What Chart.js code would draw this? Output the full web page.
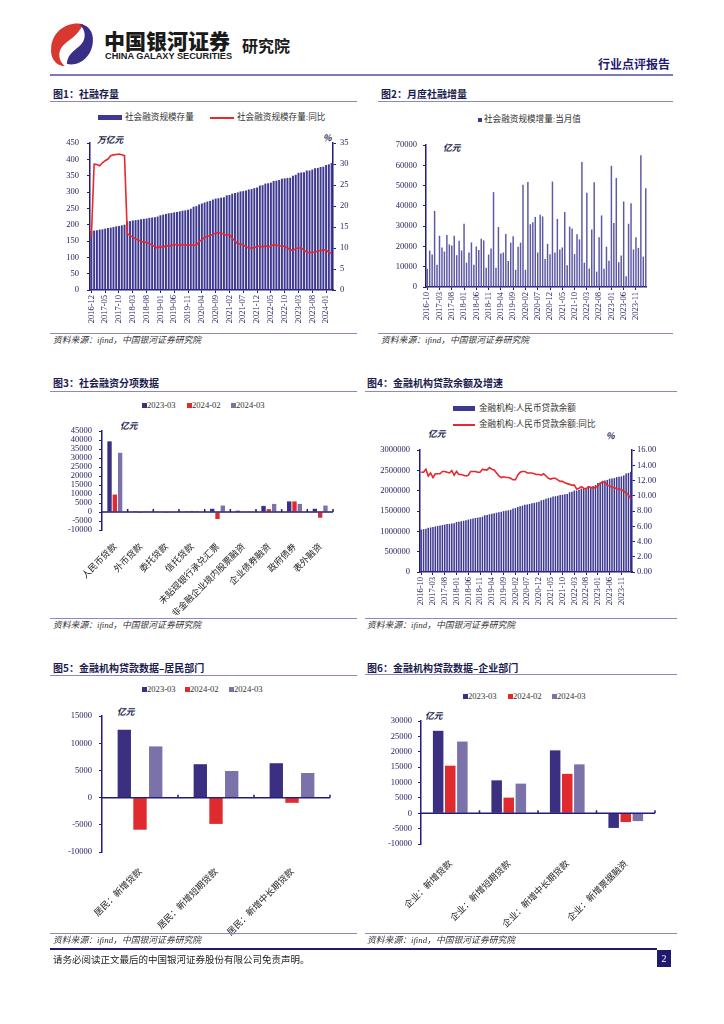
<!DOCTYPE html>
<html lang="zh">
<head>
<meta charset="UTF-8">
<title>社融与贷款数据</title>
<script src="https://cdn.jsdelivr.net/npm/chart.js"></script>
<style>
  body { margin: 0; background: #fff; }
  .page { position: relative; width: 724px; height: 1024px; overflow: hidden; font-family: "Noto Sans CJK SC", sans-serif; color: #222; }
  .abs { position: absolute; white-space: nowrap; line-height: 1; }
  canvas { position: absolute; }
  .title { font-size: 10px; font-weight: bold; color: #1b1b4d; }
  .rule { position: absolute; height: 1px; background: #8a88c6; }
  .src { font-family: "Liberation Serif", "Noto Sans CJK SC", serif; font-style: italic; font-size: 8.8px; color: #333; }
  .lg { font-family: "Liberation Serif", "Noto Sans CJK SC", serif; font-size: 8.6px; color: #333; }
  .sw { position: absolute; }
  .unit { font-size: 8.8px; font-weight: bold; font-style: italic; color: #1b1b4d; }
</style>
</head>
<body>
<div class="page">
  <!-- 页眉 -->
  <svg class="abs" style="left:48px;top:21px" width="48" height="46" viewBox="0 0 46 44">
    <path d="M34 3 C18 0 4 10 3 26 C2 36 8 43 16 43 C10 38 9 30 14 24 C19 18 27 16 34 3 Z" fill="#d8382e"/>
    <path d="M18 41 C30 44 42 34 43 20 C44 10 38 3 30 3 C36 8 37 16 32 22 C27 28 19 30 18 41 Z" fill="#3a2f86"/>
  </svg>
  <div class="abs" style="left:104px;top:30px;font-size:21px;font-weight:900;color:#1a1a1a">中国银河证券</div>
  <div class="abs" style="left:105px;top:52px;font-family:'Liberation Sans',sans-serif;font-size:9.2px;font-weight:bold;color:#1a1a1a">CHINA GALAXY SECURITIES</div>
  <div class="abs" style="left:242px;top:37px;font-size:16px;font-weight:bold;color:#1a1a1a">研究院</div>
  <div class="abs" style="left:598px;top:58px;font-size:12px;font-weight:bold;color:#1f1a6e">行业点评报告</div>
  <div class="rule" style="left:50px;top:74px;width:623px;height:2px;background:#7b78c0"></div>

  <!-- 图1 -->
  <div class="abs title" style="left:53px;top:89px">图1：社融存量</div>
  <div class="rule" style="left:50px;top:101px;width:307px"></div>
  <div class="sw" style="left:98px;top:115px;width:24px;height:5px;background:#3d3891"></div>
  <div class="abs lg" style="left:125px;top:113px">社会融资规模存量</div>
  <div class="sw" style="left:210px;top:117px;width:24px;height:2px;background:#e8282c"></div>
  <div class="abs lg" style="left:237px;top:113px">社会融资规模存量:同比</div>
  <div class="abs unit" style="left:97px;top:136px">万亿元</div>
  <div class="abs unit" style="left:323px;top:134px">%</div>
  <canvas id="c1" width="305" height="200" style="left:50px;top:130px"></canvas>
  <div class="rule" style="left:50px;top:333px;width:307px"></div>
  <div class="abs src" style="left:53px;top:336px">资料来源：ifind，中国银河证券研究院</div>

  <!-- 图2 -->
  <div class="abs title" style="left:381px;top:89px">图2：月度社融增量</div>
  <div class="rule" style="left:378px;top:101px;width:295px"></div>
  <div class="sw" style="left:478px;top:118px;width:4px;height:4px;background:#3d3891"></div>
  <div class="abs lg" style="left:484px;top:115px">社会融资规模增量:当月值</div>
  <div class="abs unit" style="left:443px;top:144px">亿元</div>
  <canvas id="c2" width="280" height="193" style="left:378px;top:134px"></canvas>
  <div class="rule" style="left:378px;top:333px;width:295px"></div>
  <div class="abs src" style="left:381px;top:336px">资料来源：ifind，中国银河证券研究院</div>

  <!-- 图3 -->
  <div class="abs title" style="left:53px;top:378px">图3：社会融资分项数据</div>
  <div class="rule" style="left:50px;top:391px;width:307px"></div>
  <div class="sw" style="left:142px;top:403px;width:5px;height:5px;background:#3a2f80"></div>
  <div class="abs lg" style="left:147px;top:401px">2023-03</div>
  <div class="sw" style="left:187px;top:403px;width:5px;height:5px;background:#e02a2e"></div>
  <div class="abs lg" style="left:192px;top:401px">2024-02</div>
  <div class="sw" style="left:231px;top:403px;width:5px;height:5px;background:#7b72aa"></div>
  <div class="abs lg" style="left:236px;top:401px">2024-03</div>
  <div class="abs unit" style="left:120px;top:422px">亿元</div>
  <canvas id="c3" width="288" height="196" style="left:50px;top:419px"></canvas>
  <div class="rule" style="left:50px;top:618px;width:307px"></div>
  <div class="abs src" style="left:53px;top:621px">资料来源：ifind，中国银河证券研究院</div>

  <!-- 图4 -->
  <div class="abs title" style="left:367px;top:378px">图4：金融机构贷款余额及增速</div>
  <div class="rule" style="left:365px;top:391px;width:312px"></div>
  <div class="sw" style="left:453px;top:406px;width:22px;height:5px;background:#3d3891"></div>
  <div class="abs lg" style="left:479px;top:404px">金融机构:人民币贷款余额</div>
  <div class="sw" style="left:453px;top:424px;width:22px;height:2px;background:#e8282c"></div>
  <div class="abs lg" style="left:479px;top:420px">金融机构:人民币贷款余额:同比</div>
  <div class="abs unit" style="left:428px;top:430px">亿元</div>
  <div class="abs unit" style="left:606px;top:432px">%</div>
  <canvas id="c4" width="302" height="174" style="left:362px;top:438px"></canvas>
  <div class="rule" style="left:365px;top:618px;width:312px"></div>
  <div class="abs src" style="left:367px;top:621px">资料来源：ifind，中国银河证券研究院</div>

  <!-- 图5 -->
  <div class="abs title" style="left:53px;top:663px">图5：金融机构贷款数据–居民部门</div>
  <div class="rule" style="left:50px;top:675px;width:307px"></div>
  <div class="sw" style="left:142px;top:687px;width:5px;height:5px;background:#3a2f80"></div>
  <div class="abs lg" style="left:147px;top:685px">2023-03</div>
  <div class="sw" style="left:185px;top:687px;width:5px;height:5px;background:#e02a2e"></div>
  <div class="abs lg" style="left:190px;top:685px">2024-02</div>
  <div class="sw" style="left:229px;top:687px;width:5px;height:5px;background:#7b72aa"></div>
  <div class="abs lg" style="left:234px;top:685px">2024-03</div>
  <div class="abs unit" style="left:117px;top:708px">亿元</div>
  <canvas id="c5" width="285" height="238" style="left:50px;top:704px"></canvas>
  <div class="rule" style="left:50px;top:933px;width:307px"></div>
  <div class="abs src" style="left:53px;top:936px">资料来源：ifind，中国银河证券研究院</div>

  <!-- 图6 -->
  <div class="abs title" style="left:367px;top:663px">图6：金融机构贷款数据–企业部门</div>
  <div class="rule" style="left:365px;top:674px;width:312px"></div>
  <div class="sw" style="left:463px;top:694px;width:5px;height:5px;background:#3a2f80"></div>
  <div class="abs lg" style="left:468px;top:692px">2023-03</div>
  <div class="sw" style="left:508px;top:694px;width:5px;height:5px;background:#e02a2e"></div>
  <div class="abs lg" style="left:513px;top:692px">2024-02</div>
  <div class="sw" style="left:552px;top:694px;width:5px;height:5px;background:#7b72aa"></div>
  <div class="abs lg" style="left:557px;top:692px">2024-03</div>
  <div class="abs unit" style="left:425px;top:712px">亿元</div>
  <canvas id="c6" width="291" height="224" style="left:369px;top:710px"></canvas>
  <div class="rule" style="left:365px;top:933px;width:312px"></div>
  <div class="abs src" style="left:367px;top:936px">资料来源：ifind，中国银河证券研究院</div>

  <!-- 页脚 -->
  <div class="rule" style="left:50px;top:948px;width:607px;height:2px;background:#1f1a6e"></div>
  <div class="abs" style="left:53px;top:955px;font-size:9.5px;color:#222">请务必阅读正文最后的中国银河证券股份有限公司免责声明。</div>
  <div class="abs" style="left:657px;top:950px;width:14px;height:17px;background:#1f1a6e;color:#fff;font-family:'Liberation Serif',serif;font-size:10px;line-height:17px;text-align:center">2</div>
</div>

<script>
    // 图1：社融存量（万亿元）及同比（%），2016-12 至 2024-03
    const tsfStock = [180,
        182, 183, 185, 186, 188, 190, 191, 193, 195, 196, 198, 200,
        210, 211, 213, 214, 215, 217, 218, 219, 221, 222, 223, 225,
        229, 231, 233, 235, 236, 238, 239, 241, 243, 244, 246, 249,
        255, 257, 262, 265, 268, 271, 273, 277, 280, 281, 283, 284,
        290, 291, 295, 297, 299, 302, 303, 305, 308, 309, 312, 314,
        320, 321, 326, 327, 329, 334, 335, 337, 341, 342, 343, 344,
        350, 353, 359, 360, 361, 366, 366, 369, 373, 374, 377, 378,
        383, 385, 389];
    const tsfYoY = [12.8,
        30.0, 29.9, 29.6, 30.3, 30.8, 31.2, 32.0, 32.2, 32.3, 32.4, 32.2, 32.0,
        13.4, 13.0, 12.6, 12.2, 11.9, 11.6, 11.4, 11.3, 11.1, 10.7, 10.3, 10.0,
        10.4, 10.1, 10.7, 10.4, 10.6, 10.9, 10.7, 10.7, 10.8, 10.7, 10.7, 10.7,
        10.7, 10.7, 11.5, 12.0, 12.5, 12.8, 12.9, 13.3, 13.5, 13.7, 13.6, 13.3,
        13.0, 13.3, 12.3, 11.7, 11.0, 11.0, 10.7, 10.3, 10.0, 10.0, 10.1, 10.3,
        10.5, 10.2, 10.6, 10.2, 10.5, 10.8, 10.7, 10.5, 10.6, 10.3, 10.0, 9.6,
        9.4, 9.9, 10.0, 10.0, 9.5, 9.0, 8.9, 9.0, 9.0, 9.3, 9.4, 9.5,
        9.5, 9.0, 8.7];

    // 图2：社融增量当月值（亿元），2016-10 至 2024-03
    const tsfFlow = [9000, 18000, 16000,
        37500, 11000, 25300, 19500, 17500, 25700, 21000, 20500, 25300, 15700, 22800, 18000,
        31200, 12000, 17000, 22000, 11000, 20000, 18300, 23800, 23000, 9500, 16000, 19000,
        46800, 9500, 29600, 16500, 17000, 26200, 12800, 21900, 25000, 8500, 19800, 21900,
        50500, 8500, 51800, 31000, 32000, 34600, 17000, 35600, 34800, 13800, 21300, 16200,
        52000, 17000, 33600, 18500, 19500, 37000, 10700, 29800, 28900, 16200, 26000, 23500,
        61700, 12000, 46500, 9100, 28400, 51700, 7600, 24500, 35300, 9000, 19900, 13000,
        59800, 31600, 53800, 12200, 15600, 42200, 5300, 31200, 41300, 18500, 24500, 19300,
        65000, 15000, 48700];

    // 图4：金融机构人民币贷款余额（亿元）及同比（%），2016-10 至 2024-03
    const loanBal = [1046300, 1054200, 1066000,
        1086300, 1097900, 1109700, 1120700, 1131800, 1146500, 1154800, 1165700, 1178400, 1185200, 1196400, 1201300,
        1230200, 1238300, 1249500, 1260300, 1271900, 1290300, 1302800, 1315700, 1329500, 1336300, 1348800, 1362970,
        1395600, 1404200, 1421100, 1431300, 1443100, 1459800, 1470400, 1482500, 1499100, 1505700, 1519600, 1531100,
        1564200, 1572300, 1601900, 1618900, 1633800, 1652400, 1662300, 1675100, 1694100, 1700900, 1715300, 1727500,
        1763500, 1777100, 1804100, 1818800, 1833800, 1855100, 1864000, 1876200, 1892800, 1900100, 1912800, 1922300,
        1962200, 1974500, 2005200, 2005900, 2025000, 2053300, 2059200, 2071800, 2096500, 2102800, 2115700, 2139900,
        2188900, 2207000, 2245100, 2252300, 2265900, 2295900, 2299500, 2312100, 2335900, 2343300, 2354200, 2375900,
        2424100, 2438700, 2470100];
    const loanYoY = [13.1, 13.1, 13.5,
        12.6, 13.0, 12.4, 12.9, 12.9, 12.9, 13.2, 13.2, 13.1, 13.0, 13.3, 12.7,
        13.2, 12.8, 12.8, 12.7, 12.6, 12.7, 13.2, 13.2, 13.2, 13.1, 13.1, 13.5,
        13.4, 13.4, 13.7, 13.5, 13.4, 13.0, 12.6, 12.4, 12.5, 12.4, 12.4, 12.3,
        12.1, 12.1, 12.7, 13.1, 13.2, 13.2, 13.0, 13.0, 13.0, 12.9, 12.8, 12.8,
        12.7, 12.9, 12.6, 12.3, 12.2, 12.3, 12.3, 12.1, 11.9, 11.9, 11.7, 11.6,
        11.5, 11.4, 11.4, 10.9, 11.0, 11.2, 11.0, 10.9, 11.2, 11.1, 11.0, 11.1,
        11.3, 11.6, 11.8, 11.8, 11.4, 11.3, 11.1, 11.1, 10.9, 10.9, 10.8, 10.6,
        10.4, 10.1, 9.6];

    // 图3：社融分项（亿元）
    const tsfItems = ['人民币贷款', '外币贷款', '委托贷款', '信托贷款', '未贴现银行承兑汇票',
        '非金融企业境内股票融资', '企业债券融资', '政府债券', '表外融资'];
    const items2303 = [39300, 100, 0, 100, 1800, 730, 3400, 5900, 1800];
    const items2402 = [9700, -50, -100, 600, -3900, 200, 1600, 5900, -3200];
    const items2403 = [32900, 400, -400, 550, 3600, 380, 4500, 4500, 3600];

    // 图5：居民部门（亿元）
    const hhItems = ['居民：新增贷款', '居民：新增短期贷款', '居民：新增中长期贷款'];
    const hh2303 = [12470, 6150, 6330];
    const hh2402 = [-5900, -4830, -950];
    const hh2403 = [9430, 4900, 4530];

    // 图6：企业部门（亿元）
    const corpItems = ['企业：新增贷款', '企业：新增短期贷款', '企业：新增中长期贷款', '企业：新增票据融资'];
    const corp2303 = [26840, 10720, 20480, -4770];
    const corp2402 = [15490, 5090, 12840, -2860];
    const corp2403 = [23340, 9650, 15920, -2550];

    const seriesNames = ['2023-03', '2024-02', '2024-03'];

    function monthsFrom(y, m, n) {
        const out = [];
        for (let i = 0; i < n; i++) {
            const k = m - 1 + i;
            out.push((y + Math.floor(k / 12)) + '-' + String(k % 12 + 1).padStart(2, '0'));
        }
        return out;
    }
    const months1 = monthsFrom(2016, 12, tsfStock.length);
    const months2 = monthsFrom(2016, 10, tsfFlow.length);

    const NAVY = '#231d7a';
    const TXT = '#26245e';
    const RED = '#e8282c';
    const C1 = '#3a2f80', C2 = '#e02a2e', C3 = '#7b72aa';

    Chart.defaults.font.family = "'Liberation Serif', 'Noto Sans CJK SC', serif";
    Chart.defaults.font.size = 8.5;

    function yAxis(min, max, step, width, pad, pos, fmt) {
        return {
            position: pos || 'left', min: min, max: max,
            ticks: { stepSize: step, autoSkip: false, color: TXT, padding: pad, callback: fmt || (v => String(v)) },
            grid: { drawOnChartArea: false, color: NAVY, tickLength: 3 },
            border: { color: NAVY, width: 1.5 },
            afterFit: s => { s.width = width; }
        };
    }

    function monthAxis(h) {
        return {
            ticks: {
                autoSkip: false, minRotation: 90, maxRotation: 90, padding: 2, color: TXT,
                callback: function (v, i) { return i % 5 === 0 ? this.getLabelForValue(v) : ''; }
            },
            grid: { drawOnChartArea: false, offset: false, tickLength: 3, color: c => c.index % 5 === 0 ? NAVY : 'rgba(0,0,0,0)' },
            border: { color: NAVY, width: 1.5 },
            afterFit: s => { s.height = h; }
        };
    }

    // 标签会被裁剪在坐标轴框内，所以高度要留够
    function catAxis(h, size, pad) {
        return {
            ticks: { autoSkip: false, minRotation: 45, maxRotation: 45, padding: pad, color: '#222',
                font: { size: size, family: "'Noto Sans CJK SC', sans-serif" } },
            grid: { display: false },
            border: { display: false },
            afterFit: s => { s.height = h; }
        };
    }

    function opts(scales, pad) {
        return {
            responsive: false, animation: false,
            layout: { padding: pad },
            plugins: { legend: { display: false }, tooltip: { enabled: false } },
            scales: scales
        };
    }

    // 零轴及类目分隔短刻度
    const zeroLine = {
        id: 'zeroLine',
        afterDatasetsDraw(chart) {
            const { ctx, chartArea: a, scales } = chart;
            const y0 = scales.y.getPixelForValue(0);
            const n = chart.data.labels.length;
            const half = (scales.x.getPixelForValue(1) - scales.x.getPixelForValue(0)) / 2;
            ctx.save();
            ctx.strokeStyle = NAVY;
            ctx.lineWidth = 1.5;
            ctx.beginPath();
            ctx.moveTo(a.left, y0);
            ctx.lineTo(a.right, y0);
            for (let i = 0; i < n; i++) {
                const x = scales.x.getPixelForValue(i) + half;
                ctx.moveTo(x, y0);
                ctx.lineTo(x, y0 - 3);
            }
            ctx.stroke();
            ctx.restore();
        }
    };

    function groupSets(a, b, c, bp) {
        return [a, b, c].map((d, i) => ({
            label: seriesNames[i], data: d, backgroundColor: [C1, C2, C3][i],
            categoryPercentage: 0.62, barPercentage: bp
        }));
    }

    // 图1
    new Chart(document.getElementById('c1'), {
        type: 'bar',
        data: {
            labels: months1,
            datasets: [
                { type: 'line', label: '社会融资规模存量:同比', data: tsfYoY, yAxisID: 'y1', borderColor: RED, borderWidth: 1.6, pointRadius: 0, order: 0 },
                { label: '社会融资规模存量', data: tsfStock, yAxisID: 'y', backgroundColor: '#3d3891', barPercentage: 0.7, categoryPercentage: 1, order: 1 }
            ]
        },
        options: opts({
            x: monthAxis(40),
            y: yAxis(0, 450, 50, 40, 8),
            y1: yAxis(0, 35, 5, 22, 4, 'right')
        }, { top: 8 })
    });

    // 图2
    new Chart(document.getElementById('c2'), {
        type: 'bar',
        data: {
            labels: months2,
            datasets: [{ label: '社会融资规模增量:当月值', data: tsfFlow, backgroundColor: '#5d59a3', barPercentage: 0.6, categoryPercentage: 1 }]
        },
        options: opts({
            x: monthAxis(40),
            y: yAxis(0, 70000, 10000, 48, 6)
        }, { top: 8, right: 6 })
    });

    // 图3
    new Chart(document.getElementById('c3'), {
        type: 'bar',
        data: { labels: tsfItems, datasets: groupSets(items2303, items2402, items2403, 0.82) },
        options: opts({
            x: catAxis(85, 9, 3),
            y: yAxis(-10000, 45000, 5000, 52, 7)
        }, { top: 8, right: 5 }),
        plugins: [zeroLine]
    });

    // 图4
    new Chart(document.getElementById('c4'), {
        type: 'bar',
        data: {
            labels: months2,
            datasets: [
                { type: 'line', label: '金融机构:人民币贷款余额:同比', data: loanYoY, yAxisID: 'y1', borderColor: RED, borderWidth: 1.6, pointRadius: 0, order: 0 },
                { label: '金融机构:人民币贷款余额', data: loanBal, yAxisID: 'y', backgroundColor: '#3d3891', barPercentage: 0.65, categoryPercentage: 1, order: 1 }
            ]
        },
        options: opts({
            x: monthAxis(40),
            y: yAxis(0, 3000000, 500000, 58, 7),
            y1: yAxis(0, 16, 2, 32, 2, 'right', v => v.toFixed(2))
        }, { top: 8 })
    });

    // 图5
    new Chart(document.getElementById('c5'), {
        type: 'bar',
        data: { labels: hhItems, datasets: groupSets(hh2303, hh2402, hh2403, 0.85) },
        options: opts({
            x: catAxis(90, 9, 6),
            y: yAxis(-10000, 15000, 5000, 52, 7)
        }, { top: 8, right: 5 }),
        plugins: [zeroLine]
    });

    // 图6
    new Chart(document.getElementById('c6'), {
        type: 'bar',
        data: { labels: corpItems, datasets: groupSets(corp2303, corp2402, corp2403, 0.87) },
        options: opts({
            x: catAxis(90, 9, 6),
            y: yAxis(-10000, 30000, 5000, 52, 6)
        }, { top: 8, right: 5 }),
        plugins: [zeroLine]
    });
</script>
</body>
</html>
